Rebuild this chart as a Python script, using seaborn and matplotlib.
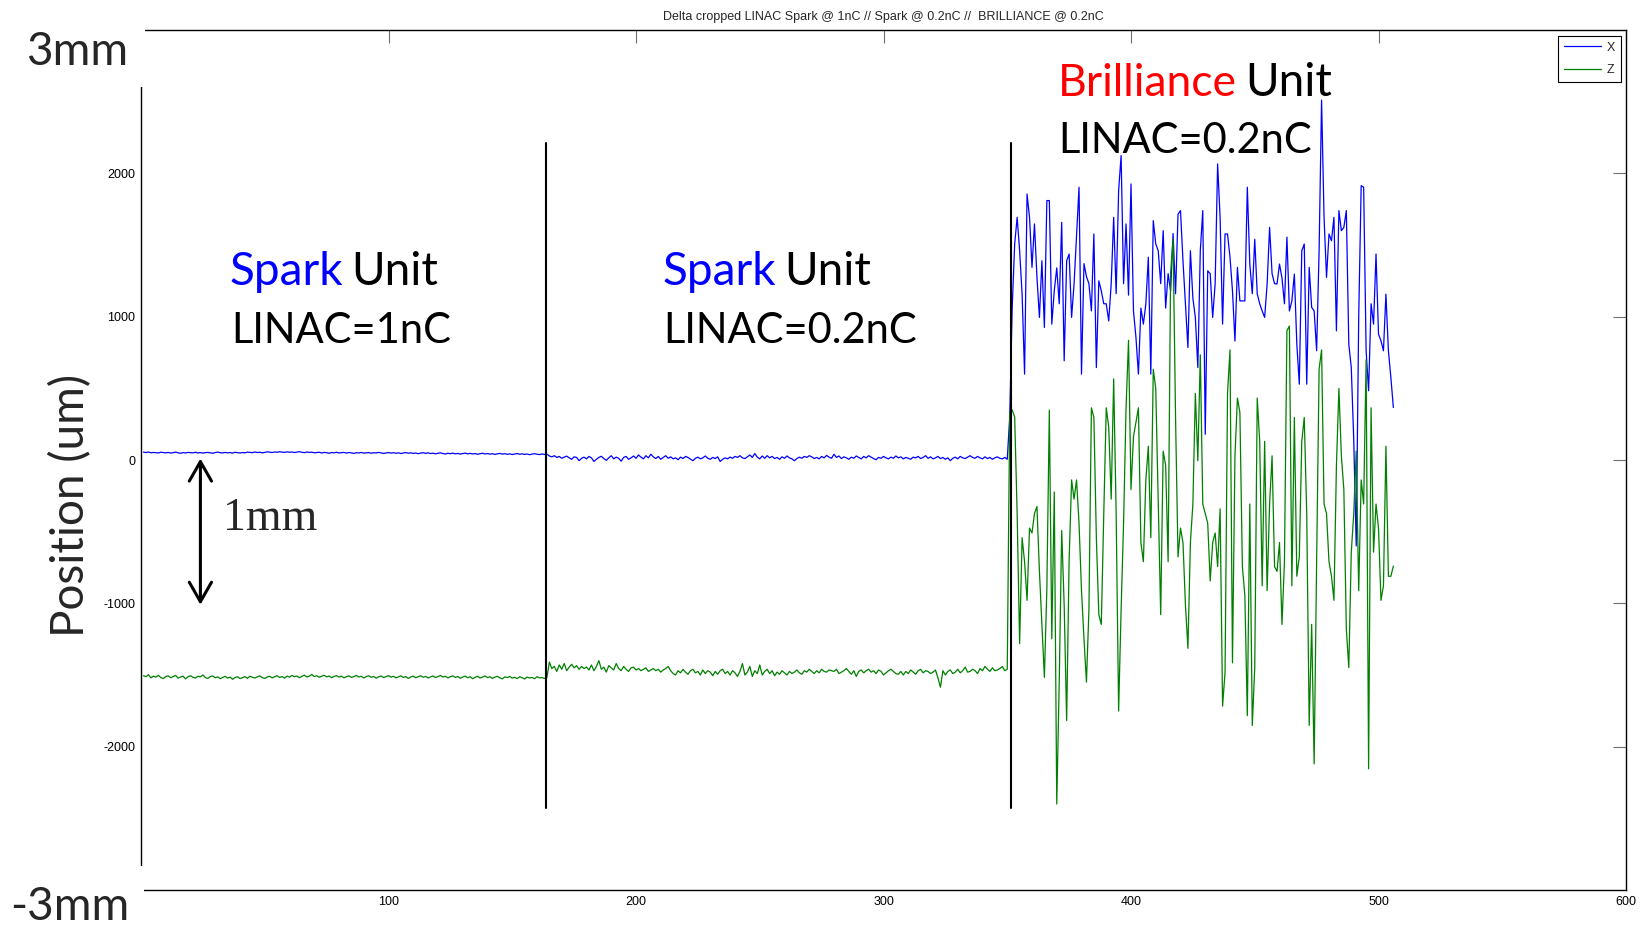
import numpy as np
import pandas as pd
import matplotlib
matplotlib.use("Agg")
import matplotlib.pyplot as plt
from matplotlib.patches import Rectangle
import seaborn as sns

# Beam position per sample, three consecutive runs
spark_1nc_x = [
    55, 52, 56, 50, 53, 51, 49, 54, 52, 50, 53, 48, 51, 55, 50, 47, 52, 49, 53, 51,
    50, 54, 49, 52, 48, 51, 53, 50, 47, 52, 55, 51, 49, 53, 50, 52, 48, 54, 51, 49,
    52, 50, 55, 53, 51, 56, 52, 54, 50, 53, 57, 55, 52, 56, 54, 58, 55, 53, 57, 54,
    56, 52, 55, 58, 54, 51, 56, 53, 55, 50, 52, 54, 49, 53, 51, 47, 52, 50, 54, 49,
    51, 53, 48, 52, 50, 46, 51, 49, 53, 48, 50, 52, 47, 51, 49, 53, 50, 46, 49, 52,
    48, 51, 47, 50, 45, 49, 52, 47, 50, 46, 49, 44, 48, 51, 46, 50, 45, 48, 43, 47,
    50, 45, 42, 47, 44, 48, 43, 46, 41, 45, 48, 43, 46, 42, 45, 40, 44, 47, 42, 45,
    41, 44, 39, 43, 46, 41, 44, 40, 43, 38, 42, 45, 40, 43, 39, 42, 37, 41, 44, 40,
    38, 42, 39, 41,
]
spark_1nc_z = [
    -1505, -1512, -1498, -1520, -1508, -1515, -1502, -1518, -1525, -1510,
    -1506, -1519, -1511, -1503, -1522, -1514, -1508, -1527, -1512, -1505,
    -1516, -1521, -1509, -1513, -1500, -1518, -1524, -1511, -1507, -1519,
    -1513, -1526, -1517, -1509, -1522, -1515, -1530, -1518, -1512, -1525,
    -1519, -1511, -1523, -1508, -1516, -1521, -1513, -1506, -1518, -1524,
    -1514, -1509, -1520, -1512, -1505, -1517, -1511, -1522, -1508, -1515,
    -1503, -1512, -1507, -1519, -1510, -1501, -1514, -1508, -1496, -1511,
    -1505, -1516, -1509, -1502, -1513, -1507, -1519, -1510, -1504, -1515,
    -1508, -1520, -1512, -1506, -1517, -1511, -1503, -1514, -1509, -1521,
    -1512, -1505, -1516, -1510, -1522, -1513, -1507, -1518, -1511, -1504,
    -1515, -1509, -1520, -1513, -1506, -1517, -1511, -1524, -1514, -1508,
    -1519, -1512, -1505, -1516, -1510, -1521, -1513, -1507, -1518, -1511,
    -1503, -1514, -1509, -1520, -1512, -1506, -1517, -1510, -1523, -1514,
    -1508, -1519, -1512, -1526, -1516, -1509, -1521, -1514, -1507, -1518,
    -1512, -1524, -1515, -1509, -1520, -1527, -1513, -1518, -1510, -1522,
    -1516, -1525, -1512, -1519, -1528, -1514, -1521, -1517, -1526, -1512,
    -1520, -1518, -1524, -1519,
]
spark_02nc_x = [
    28, 22, 30, 18, 25, 12, 20, 27, 15, 5, 22, 18, -5, 12, 20, 8, 25, 15, -10, 5,
    18, 26, 10, -2, 15, 30, 8, 20, 12, -8, 18, 25, 5, 15, 28, 12, 35, 20, 8, 30,
    15, 40, 22, 10, 25, 5, 18, 30, 12, 22, 8, 15, 2, 20, 10, 25, 18, 6, -5, 12,
    20, 8, 15, 28, 12, 5, 18, 10, 22, -10, 5, 15, 8, 20, 12, 25, 18, 30, 15, 10,
    22, 35, 18, 45, 20, 8, 28, 12, 30, 15, 25, 10, 18, 5, 22, 12, 28, 15, 8, -5,
    10, 20, 12, 25, 18, 30, 22, 10, 18, 8, 25, 15, 32, 20, 12, 40, 18, 28, 10, 22,
    15, 5, 20, 12, 28, 18, 8, 25, 15, 30, 20, 10, 2, 18, 12, 25, 15, 8, 20, 12,
    28, 15, 22, 8, 18, 12, 5, 20, 15, 25, 10, 18, 30, 12, 22, 8, 15, 25, 10, 18,
    5, 15, -5, 12, 20, 8, 25, 15, 10, 20, 30, 18, 12, 25, 15, 8, 22, 10, 18, 5,
    15, 22, 12, 8, 18, 5,
]
spark_02nc_z = [
    -1410, -1455, -1440, -1475, -1430, -1460, -1420, -1470, -1445, -1425,
    -1450, -1435, -1460, -1440, -1455, -1445, -1465, -1430, -1470, -1440,
    -1400, -1460, -1445, -1480, -1435, -1450, -1465, -1420, -1455, -1470,
    -1440, -1460, -1475, -1450, -1445, -1465, -1455, -1470, -1460, -1450,
    -1475, -1465, -1455, -1470, -1460, -1480, -1465, -1455, -1440, -1470,
    -1490, -1500, -1470, -1485, -1460, -1480, -1495, -1470, -1460, -1485,
    -1475, -1500, -1465, -1490, -1470, -1480, -1505, -1475, -1495, -1470,
    -1460, -1490, -1475, -1500, -1470, -1485, -1510, -1475, -1420, -1500,
    -1480, -1440, -1510, -1470, -1490, -1430, -1500, -1475, -1460, -1490,
    -1470, -1505, -1480, -1495, -1470, -1485, -1500, -1475, -1490, -1480,
    -1465, -1485, -1495, -1470, -1480, -1460, -1475, -1490, -1470, -1485,
    -1460, -1475, -1480, -1465, -1470, -1475, -1460, -1490, -1480, -1470,
    -1455, -1475, -1495, -1470, -1510, -1475, -1465, -1485, -1470, -1460,
    -1480, -1470, -1490, -1465, -1475, -1500, -1485, -1470, -1460, -1475,
    -1490, -1495, -1475, -1500, -1475, -1490, -1465, -1480, -1495, -1470,
    -1460, -1485, -1470, -1475, -1490, -1480, -1465, -1520, -1585, -1470,
    -1500, -1475, -1465, -1490, -1480, -1460, -1485, -1470, -1445, -1480,
    -1475, -1460, -1470, -1490, -1455, -1470, -1440, -1460, -1475, -1450,
    -1470, -1465, -1455, -1440, -1470, -1460,
]
brilliance_x = [
    300,
    1064, 1507, 1693, 1460, 1157, 599, 1856, 1693, 1344, 1647,
    1274, 995, 1390, 925, 1810, 1810, 948, 1181, 1340, 1090,
    1658, 692, 1390, 1437, 995, 1230, 1560, 1903, 599, 1370,
    1280, 1230, 1040, 1577, 645, 1250, 1180, 1090, 1090, 970,
    1230, 1693, 1160, 1880, 2124, 1230, 1647, 1150, 1926, 1040,
    855, 599, 1060, 948, 1090, 1415, 599, 1670, 1507, 1460,
    1230, 1600, 1060, 1300, 1180, 1580, 1160, 1715, 1740, 1390,
    1090, 785, 1460, 1130, 995, 645, 1460, 1740, 179, 1320,
    1300, 995, 1230, 2066, 1693, 948, 1577, 1577, 1415, 1180,
    830, 1344, 1110, 1110, 1110, 1903, 1367, 1160, 1540, 1160,
    1090, 1040, 995, 1228, 1623, 1300, 1230, 1228, 1367, 1270,
    1090, 1555, 1040, 1110, 1297, 808, 529, 1460, 1507, 529,
    1344, 1065, 1040, 762, 1460, 2511, 1693, 1274, 1577, 1530,
    1693, 901, 1740, 1600, 1623, 1740, 808, 645, 140, -600,
    995, 1914, 1903, 762, 483, 1090, 948, 1437, 878, 832,
    762, 1157, 762, 575, 366,
]
brilliance_z = [
    330, 350, 300, -374, -1281, -542, -710, -979, -475, -509,
    -374, -324, -777, -1147, -1516, -900, 348, -1247, -223, -2400,
    -1550, -492, -1012, -1818, -700, -139, -273, -139, -441, -912,
    -1247, -1550, -1046, 364, 297, -542, -1079, -1147, -374, 364,
    230, -273, 566, -374, -1751, -1046, -441, 364, 835, -206,
    163, 264, 364, -576, -710, -139, 96, -542, 633, 499,
    -273, -1079, 62, -38, -710, 1305, 1540, 297, -676, -475,
    -576, -1012, -1314, -576, -307, 465, -5, 734, -307, -374,
    -441, -844, -576, -509, -744, -341, -1717, -1482, 465, 768,
    -1415, 29, 432, 331, -744, -945, -1784, -307, -1852, -1449,
    432, 130, -878, 130, -912, -307, 29, -744, -777, -576,
    -1147, -710, 902, 935, -878, 297, -811, -676, 130, 297,
    -374, -1852, -1147, -2120, -710, 633, 768, -307, -374, -710,
    -811, -979, -38, 499, 29, -206, -1180, -1449, -643, -374,
    62, -912, -139, -307, 700, -2154, 364, -643, -307, -475,
    -979, -878, 96, -811, -811, -740,
]

title_text = "Delta cropped LINAC Spark @ 1nC // Spark @ 0.2nC //  BRILLIANCE @ 0.2nC"
x_ticks = [100, 200, 300, 400, 500, 600]
y_ticks = [-2000, -1000, 0, 1000, 2000]
run_bounds = [163.8, 351.5]

pos_x = np.concatenate([spark_1nc_x, spark_02nc_x, brilliance_x])
pos_z = np.concatenate([spark_1nc_z, spark_02nc_z, brilliance_z])
sample = np.arange(1, len(pos_x) + 1)

df = pd.DataFrame({
    "sample": np.concatenate([sample, sample]),
    "position": np.concatenate([pos_x, pos_z]),
    "axis": ["X"] * len(sample) + ["Z"] * len(sample),
})

sns.set_theme(style="white")
plt.rcParams["font.family"] = ["Liberation Sans", "DejaVu Sans"]

W, H = 1644, 925
fig = plt.figure(figsize=(W / 100, H / 100), dpi=100)
ax = fig.add_axes([141 / W, 1 - 890 / H, 1485 / W, 860 / H])

sns.lineplot(data=df, x="sample", y="position", hue="axis",
             palette={"X": "#0000ff", "Z": "#008000"},
             estimator=None, sort=False, linewidth=0.9, ax=ax)

ax.set_xlim(0, 600)
ax.set_ylim(-3000, 3000)
ax.set_xticks(x_ticks)
ax.set_yticks(y_ticks)
ax.set_xticklabels([str(t) for t in x_ticks])
ax.set_yticklabels([str(t) for t in y_ticks])
ax.set_xlabel("")
ax.set_ylabel("")
ax.tick_params(direction="in", length=9.5, width=0.8, color="#707070",
               labelsize=9, labelcolor="black", top=True, right=True)
ax.tick_params(axis="x", pad=4)
ax.tick_params(axis="y", pad=4)
for sp in ax.spines.values():
    sp.set_color("black")
    sp.set_linewidth(1.0)
ax.set_title(title_text, fontsize=9, pad=7)

# run separators
for xb in run_bounds:
    ax.plot([xb, xb], [-2430, 2210], color="black", lw=1.5, zorder=5)

# 1 mm scale arrow
ax.annotate("", xy=(24, -1010), xytext=(24, 10),
            arrowprops=dict(arrowstyle="<->,head_length=0.7,head_width=0.4",
                            mutation_scale=20, lw=2.2, color="black",
                            shrinkA=0, shrinkB=0))

handles, labels = ax.get_legend_handles_labels()
leg = ax.legend(handles, labels, loc="upper right",
                bbox_to_anchor=(0.9966, 0.993), borderaxespad=0,
                fontsize=9, handlelength=3.0, handletextpad=0.45,
                labelspacing=0.85, borderpad=0.45, frameon=True,
                fancybox=False, framealpha=1)
leg.get_frame().set_edgecolor("black")
leg.get_frame().set_linewidth(0.8)


def fx(px):
    return px / W


def fy(py):
    return 1 - py / H


# white label boxes in the corners
fig.add_artist(Rectangle((0, fy(87)), fx(145), 1 - fy(87),
                         transform=fig.transFigure, facecolor="white",
                         edgecolor="none", zorder=5))
fig.add_artist(Rectangle((0, 0), fx(144), fy(866),
                         transform=fig.transFigure, facecolor="white",
                         edgecolor="none", zorder=5))

big = ["Lato", "DejaVu Sans"]
bs = 33
ls = 30
fig.text(fx(26), fy(65), "3mm", fontsize=bs, family=big, va="baseline", zorder=6)
fig.text(fx(10), fy(920), "-3mm", fontsize=bs, family=big, va="baseline", zorder=6)
fig.text(fx(71), fy(505), "Position (um)", fontsize=bs, family=big,
         rotation=90, ha="center", va="center", zorder=6)
fig.text(fx(223), fy(530), "1mm", fontsize=33, family=["Liberation Serif", "DejaVu Serif"],
         va="baseline", zorder=6)

fig.text(fx(230), fy(285), "Spark", fontsize=bs, family=big, color="#0000ff", va="baseline")
fig.text(fx(351), fy(285), "Unit", fontsize=bs, family=big, color="black", va="baseline")
fig.text(fx(231), fy(343), "LINAC=1nC", fontsize=ls, family=big, color="black", va="baseline")

fig.text(fx(663), fy(285), "Spark", fontsize=bs, family=big, color="#0000ff", va="baseline")
fig.text(fx(784), fy(285), "Unit", fontsize=bs, family=big, color="black", va="baseline")
fig.text(fx(663), fy(343), "LINAC=0.2nC", fontsize=ls, family=big, color="black", va="baseline")

fig.text(fx(1058), fy(96), "Brilliance", fontsize=32, family=big, color="#ff0000", va="baseline")
fig.text(fx(1245), fy(96), "Unit", fontsize=bs, family=big, color="black", va="baseline")
fig.text(fx(1058), fy(153), "LINAC=0.2nC", fontsize=ls, family=big, color="black", va="baseline")

fig.savefig("out.png", dpi=100)
